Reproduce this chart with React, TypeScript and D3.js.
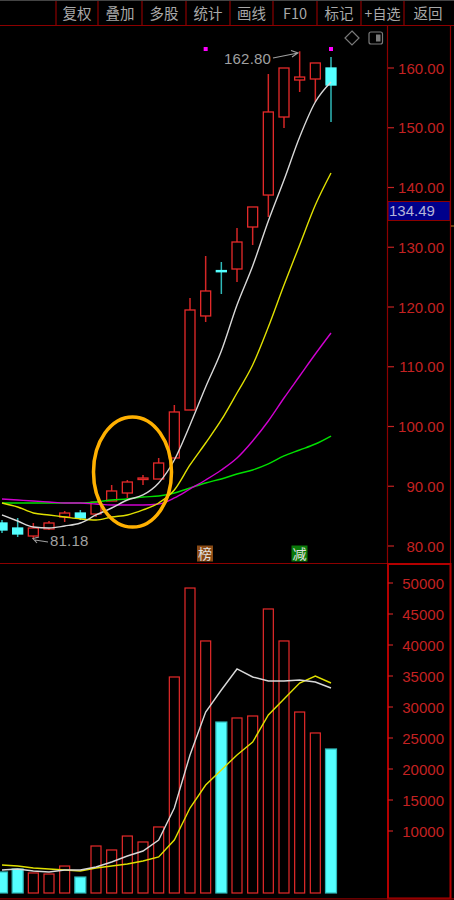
import * as d3 from "d3";

const toolbarLabels = ["复权", "叠加", "多股", "统计", "画线", "F10", "标记", "+自选", "返回"];
const priceTicks = [160, 150, 140, 130, 120, 110, 100, 90, 80];
const volumeTicks = [50000, 45000, 40000, 35000, 30000, 25000, 20000, 15000, 10000];

const opens = [83.85, 83.01, 81.67, 82.85, 84.85, 85.52, 85.35, 87.53, 88.87, 91.13, 91.21, 94.73, 102.76, 118.5, 126.1, 126.36, 133.39, 138.74, 151.8, 157.99, 158.16, 160.0];
const closes = [82.68, 82.01, 83.01, 83.85, 85.52, 84.69, 87.36, 89.21, 90.71, 91.38, 93.89, 102.43, 119.5, 122.68, 125.9, 130.88, 136.74, 152.64, 160.0, 158.49, 160.84, 157.15];
const highs = [84.35, 84.69, 83.85, 84.18, 85.86, 86.03, 87.36, 90.21, 91.05, 91.88, 94.73, 103.6, 121.5, 128.54, 127.53, 133.22, 136.74, 159.0, 160.0, 162.8, 160.84, 161.84];
const lows = [82.18, 81.51, 81.18, 82.68, 84.02, 84.35, 84.85, 87.53, 88.03, 90.21, 91.21, 94.73, 102.76, 117.49, 122.18, 124.18, 130.38, 135.06, 149.96, 155.98, 154.31, 150.96];

const ma5 = [85.19, 84.18, 83.18, 83.01, 83.35, 83.85, 85.19, 86.36, 87.7, 88.54, 90.55, 94.39, 100.25, 106.61, 112.63, 120.33, 126.86, 134.39, 141.26, 148.45, 154.31, 157.66];
const ma10 = [87.2, 86.53, 85.53, 85.19, 84.85, 84.52, 84.35, 84.85, 85.19, 86.03, 87.2, 89.37, 93.56, 97.24, 101.09, 105.61, 110.29, 116.65, 123.68, 130.38, 137.07, 142.43];
const ma20 = [87.87, 87.7, 87.53, 87.37, 87.2, 87.2, 87.03, 86.86, 86.86, 86.86, 87.03, 88.04, 89.54, 91.05, 92.72, 94.73, 97.58, 100.92, 104.77, 108.45, 112.13, 115.65];
const ma60 = [87.2, 87.2, 87.2, 87.2, 87.2, 87.2, 87.37, 87.7, 87.87, 88.2, 88.37, 88.87, 89.71, 90.55, 91.22, 92.05, 92.72, 93.73, 95.07, 96.07, 97.07, 98.41];

const volumes = [3390, 3870, 3230, 3060, 4350, 2580, 7580, 6940, 9190, 8230, 10650, 34840, 49190, 40650, 27580, 28230, 28550, 45810, 40650, 29190, 25810, 23230];
const volMa5 = [3710, 3870, 3550, 3390, 3710, 3710, 4190, 5000, 5970, 6770, 8550, 13710, 22260, 29190, 32740, 36130, 34840, 34190, 34190, 34350, 34030, 33060];
const volMa10 = [4520, 4350, 4030, 3870, 3710, 3550, 4030, 4350, 4680, 5160, 5810, 8550, 13710, 17420, 19840, 22260, 24350, 28710, 31290, 33870, 35000, 33870];

const RED = "#e62a2a";
const CYAN = "#54ffff";
const DARK_RED = "#8c0000";
const AXIS_RED = "#c42222";
const FONT = "'Liberation Sans', Arial, sans-serif";
const CJK = "'Noto Sans CJK SC', sans-serif";

const width = 454;
const height = 900;

const x = d3.scaleLinear([0, 21], [2, 331]);
const y = d3.scaleLinear([80, 160], [546, 68]);
const yv = d3.scaleLinear([0, 50000], [893, 583]);

const priceLine = d3.line<number>((_, i) => x(i), (d) => y(d)).curve(d3.curveMonotoneX);
const volLine = d3.line<number>((_, i) => x(i), (d) => yv(d));

const bodyW = 10;
const barW = 11;

const Candle = ({ i }: { i: number }) => {
  const down = closes[i] < opens[i];
  const top = y(Math.max(opens[i], closes[i]));
  const bot = y(Math.min(opens[i], closes[i]));
  const c = down ? "#2fb8b8" : "#d42626";
  return (
    <g>
      <line x1={x(i)} x2={x(i)} y1={y(highs[i])} y2={y(lows[i])} stroke={c} strokeWidth={1.5} />
      <rect
        x={x(i) - bodyW / 2}
        y={top}
        width={bodyW}
        height={Math.max(bot - top, 1)}
        fill={down ? CYAN : "#000"}
        stroke={down ? CYAN : RED}
        strokeWidth={1.3}
      />
    </g>
  );
};

export default function App() {
  const seps = [56, 98, 142, 186, 230, 273, 317, 361, 404, 454];
  return (
    <svg
      width={width}
      height={height}
      style={{ position: "absolute", left: 0, top: 0, background: "#000" }}
      fontFamily={FONT}
    >
      <rect width={width} height={height} fill="#000" />

      {/* toolbar */}
      <line x1={0} x2={width} y1={0.5} y2={0.5} stroke="#444" />
      <line x1={0} x2={width} y1={25.5} y2={25.5} stroke={DARK_RED} strokeWidth={1.2} />
      {seps.slice(0, 9).map((s) => (
        <line key={s} x1={s} x2={s} y1={1} y2={25} stroke={DARK_RED} strokeWidth={1.2} />
      ))}
      {toolbarLabels.map((t, i) => (
        <text
          key={t}
          x={(seps[i] + seps[i + 1]) / 2 - (i === 8 ? 1 : 0)}
          y={18.5}
          textAnchor="middle"
          fontSize={t === "+自选" ? 14 : 14.5}
          fill="#a8a8a8"
          fontFamily={CJK}
        >
          {t}
        </text>
      ))}

      {/* frame */}
      <line x1={387.5} x2={387.5} y1={26} y2={564} stroke={DARK_RED} strokeWidth={1.2} />
      <line x1={450.5} x2={450.5} y1={26} y2={564} stroke={DARK_RED} strokeWidth={1.2} />
      <line x1={0} x2={388} y1={563.5} y2={563.5} stroke={DARK_RED} strokeWidth={1.2} />
      <rect x={388} y={564} width={62.5} height={334.5} fill="none" stroke="#b40000" strokeWidth={2} />
      <line x1={0} x2={width} y1={898.8} y2={898.8} stroke={DARK_RED} strokeWidth={1.2} />
      <line x1={451} x2={454} y1={226} y2={226} stroke="#c08020" strokeWidth={1} />

      {/* top-right icons */}
      <path d="M352 32 L359 39 L352 46 L345 39 Z" fill="none" stroke="#7a7a7a" strokeWidth={1.2} transform="translate(0,-1)" />
      <rect x={369} y={32} width={13.5} height={12} rx={2} fill="none" stroke="#7a7a7a" strokeWidth={1.2} />
      <rect x={376} y={34.5} width={4.5} height={7} fill="#7a7a7a" />

      {/* markers */}
      <rect x={x(13) - 2} y={47} width={4} height={4} fill="#ff00ff" />
      <rect x={x(21) - 2} y={47} width={4} height={4} fill="#ff00ff" />

      {/* price axis */}
      {priceTicks.map((t) => (
        <g key={t}>
          <line x1={388} x2={394} y1={y(t)} y2={y(t)} stroke={AXIS_RED} strokeWidth={1.2} />
          <text x={444} y={y(t) + 5.5} textAnchor="end" fontSize={15} fill={AXIS_RED}>
            {t.toFixed(2)}
          </text>
        </g>
      ))}
      <rect x={388} y={201.5} width={62} height={19} fill="#00008c" stroke={DARK_RED} strokeWidth={1} />
      <text x={389} y={216} fontSize={15} fill="#b4b4d8">134.49</text>

      {/* volume axis */}
      {volumeTicks.map((t) => (
        <g key={t}>
          <line x1={388} x2={393} y1={yv(t)} y2={yv(t)} stroke={AXIS_RED} strokeWidth={1.2} />
          <text x={444} y={yv(t) + 5.5} textAnchor="end" fontSize={15} fill={AXIS_RED}>
            {t}
          </text>
        </g>
      ))}

      {/* candles */}
      {opens.map((_, i) => (
        <Candle key={i} i={i} />
      ))}

      {/* moving averages */}
      <path d={priceLine(ma60) ?? ""} fill="none" stroke="#00e000" strokeWidth={1.4} />
      <path d={priceLine(ma20) ?? ""} fill="none" stroke="#d000d0" strokeWidth={1.4} />
      <path d={priceLine(ma10) ?? ""} fill="none" stroke="#e0e000" strokeWidth={1.4} />
      <path d={priceLine(ma5) ?? ""} fill="none" stroke="#d8d8d8" strokeWidth={1.4} />

      {/* annotations */}
      <text x={224} y={64} fontSize={15} letterSpacing={0.2} fill="#a0a0a0">162.80</text>
      <path d="M273 58 L298 53 M291 50.5 L298 53 L292 57" fill="none" stroke="#a0a0a0" strokeWidth={1.1} />
      <text x={50} y={546} fontSize={15} letterSpacing={0.2} fill="#a0a0a0">81.18</text>
      <path d="M48 542 L35 540 M39 537 L33 538.5 L37 543" fill="none" stroke="#a0a0a0" strokeWidth={1.1} />

      {/* event tags */}
      <rect x={197} y={545.5} width={16} height={16} fill="#8a4a14" />
      <text x={205} y={558.5} textAnchor="middle" fontSize={14} fill="#e0e0e0" fontFamily={CJK}>榜</text>
      <rect x={291.5} y={545.5} width={16} height={16} fill="#0a7a0a" />
      <text x={299.5} y={558.5} textAnchor="middle" fontSize={14} fill="#e0e0e0" fontFamily={CJK}>减</text>

      {/* highlight */}
      <ellipse cx={132.5} cy={472} rx={39} ry={55} fill="none" stroke="#ffb000" strokeWidth={3.5} />

      {/* volume bars */}
      {volumes.map((v, i) => {
        const down = closes[i] < opens[i];
        return (
          <rect
            key={i}
            x={x(i) - barW / 2 + (down ? 0 : 0.5)}
            y={yv(v)}
            width={down ? barW : barW - 1}
            height={yv(0) - yv(v)}
            fill={down ? CYAN : "none"}
            stroke={down ? "#2fb8b8" : RED}
            strokeWidth={1.2}
          />
        );
      })}
      <path d={volLine(volMa10) ?? ""} fill="none" stroke="#e0e000" strokeWidth={1.4} />
      <path d={volLine(volMa5) ?? ""} fill="none" stroke="#d8d8d8" strokeWidth={1.4} />
    </svg>
  );
}
